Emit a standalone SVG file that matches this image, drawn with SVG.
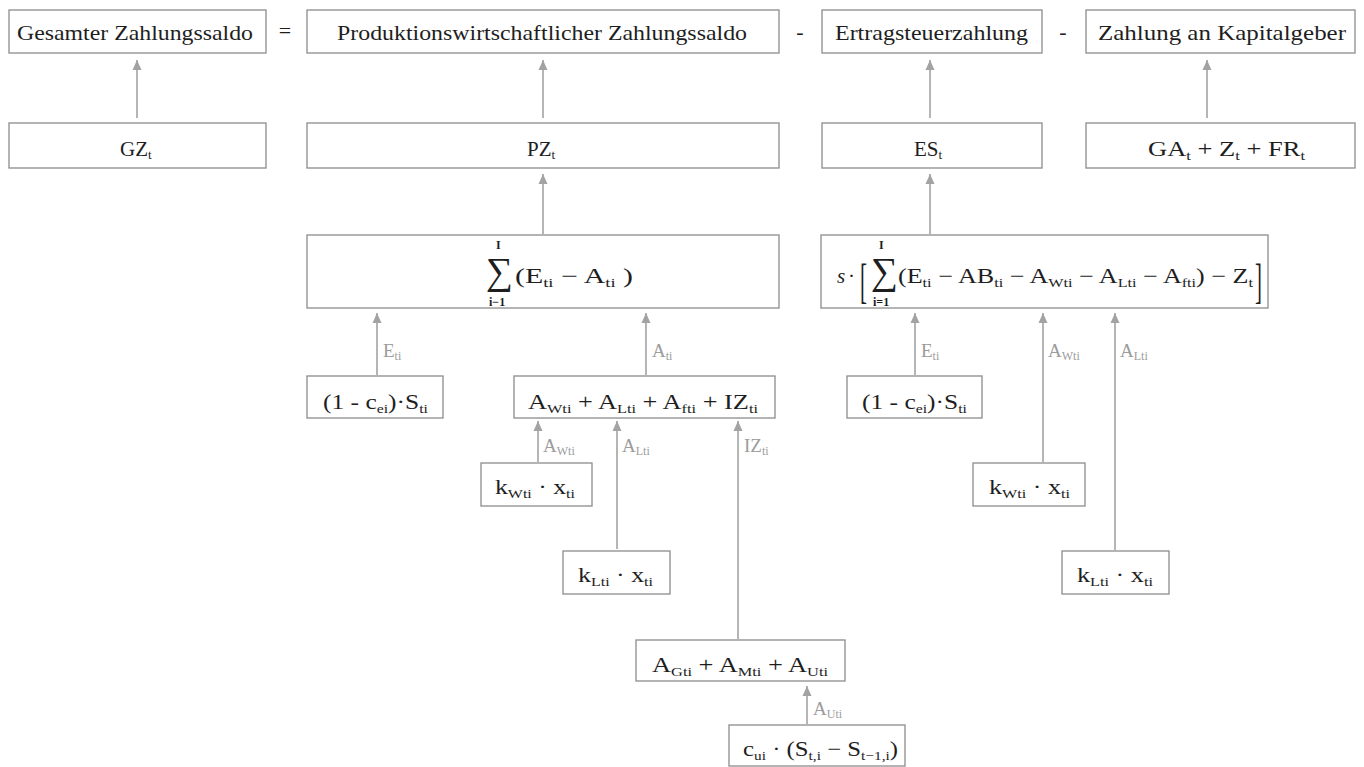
<svg xmlns="http://www.w3.org/2000/svg" width="1364" height="767" viewBox="0 0 1364 767">
  <defs>
    <marker id="arr" markerUnits="userSpaceOnUse" markerWidth="10" markerHeight="10" refX="10" refY="5" orient="auto">
      <path d="M0,0.5 L10,5 L0,9.5 z" fill="#a3a3a3"/>
    </marker>
    <style>
      .box { fill: #ffffff; stroke: #8c8c8c; stroke-width: 1.3; }
      .t { font-family: "Liberation Serif", "Times New Roman", serif; font-size: 22px; fill: #1e1e1e; }
      .m { font-family: "Liberation Serif", "Times New Roman", serif; font-size: 21px; fill: #1e1e1e; }
      .s { font-size: 13px; }
      .lim { font-family: "Liberation Serif", "Times New Roman", serif; font-size: 12px; font-weight: bold; fill: #1e1e1e; }
      .sig { font-family: "Liberation Serif", "DejaVu Serif", serif; font-size: 38px; fill: #1e1e1e; }
      .lbl { font-family: "Liberation Serif", "Times New Roman", serif; font-size: 19px; fill: #9c9c9c; }
      .ls { font-size: 12px; }
      .op { font-family: "Liberation Serif", "Times New Roman", serif; font-size: 22px; fill: #1e1e1e; text-anchor: middle; }
      #connectors line { stroke: #a3a3a3; stroke-width: 1.6; marker-end: url(#arr); }
    </style>
  </defs>
  <rect width="1364" height="767" fill="#ffffff"/>

  <!-- top row: balance equation -->
  <g id="gesamt">
    <rect class="box" x="9" y="10" width="257" height="43"/>
    <text class="t" x="17" y="40" textLength="236" lengthAdjust="spacingAndGlyphs">Gesamter Zahlungssaldo</text>
  </g>
  <text class="op" x="285" y="38">=</text>
  <g id="produktion">
    <rect class="box" x="307" y="10" width="472" height="43"/>
    <text class="t" x="337" y="40" textLength="410" lengthAdjust="spacingAndGlyphs">Produktionswirtschaftlicher Zahlungssaldo</text>
  </g>
  <text class="op" x="800" y="39">-</text>
  <g id="ertragsteuer">
    <rect class="box" x="822" y="10" width="220" height="43"/>
    <text class="t" x="835" y="40" textLength="193" lengthAdjust="spacingAndGlyphs">Ertragsteuerzahlung</text>
  </g>
  <text class="op" x="1063" y="39">-</text>
  <g id="kapitalgeber">
    <rect class="box" x="1086" y="10" width="269" height="43"/>
    <text class="t" x="1098" y="40" textLength="248" lengthAdjust="spacingAndGlyphs">Zahlung an Kapitalgeber</text>
  </g>

  <!-- second row: symbols -->
  <g id="gz">
    <rect class="box" x="9" y="123" width="257" height="45"/>
    <text class="m" x="120" y="156">GZ<tspan class="s" dy="3">t</tspan></text>
  </g>
  <g id="pz">
    <rect class="box" x="307" y="123" width="472" height="45"/>
    <text class="m" x="527" y="156">PZ<tspan class="s" dy="3">t</tspan></text>
  </g>
  <g id="es">
    <rect class="box" x="822" y="123" width="220" height="45"/>
    <text class="m" x="914" y="156">ES<tspan class="s" dy="3">t</tspan></text>
  </g>
  <g id="ga">
    <rect class="box" x="1086" y="123" width="269" height="45"/>
    <text class="m" x="1148" y="156" textLength="157" lengthAdjust="spacingAndGlyphs">GA<tspan class="s" dy="4">t</tspan><tspan dy="-4"> + Z</tspan><tspan class="s" dy="4">t</tspan><tspan dy="-4"> + FR</tspan><tspan class="s" dy="4">t</tspan></text>
  </g>

  <!-- sum of production cash flows -->
  <g id="summe">
    <rect class="box" x="307" y="235" width="472" height="73"/>
    <text class="lim" x="496" y="249">I</text>
    <text class="sig" x="486" y="284">∑</text>
    <text class="lim" x="489" y="306">i−1</text>
    <text class="m" x="515" y="283" textLength="118" lengthAdjust="spacingAndGlyphs">(E<tspan class="s" dy="4">ti</tspan><tspan dy="-4"> − A</tspan><tspan class="s" dy="4">ti</tspan><tspan dy="-4"> )</tspan></text>
  </g>

  <!-- tax formula -->
  <g id="steuer">
    <rect class="box" x="821" y="235" width="447" height="73"/>
    <text class="m" x="837" y="283" font-style="italic">s</text>
    <text class="m" x="848" y="283">·</text>
    <text class="m" transform="translate(860,297) scale(1,2.3)" font-size="24">[</text>
    <text class="lim" x="879" y="249">I</text>
    <text class="sig" x="871" y="284">∑</text>
    <text class="lim" x="873" y="306">i=1</text>
    <text class="m" x="898" y="283" textLength="355" lengthAdjust="spacingAndGlyphs">(E<tspan class="s" dy="4">ti</tspan><tspan dy="-4"> − AB</tspan><tspan class="s" dy="4">ti</tspan><tspan dy="-4"> − A</tspan><tspan class="s" dy="4">Wti</tspan><tspan dy="-4"> − A</tspan><tspan class="s" dy="4">Lti</tspan><tspan dy="-4"> − A</tspan><tspan class="s" dy="4">fti</tspan><tspan dy="-4">) − Z</tspan><tspan class="s" dy="4">t</tspan></text>
    <text class="m" transform="translate(1255,297) scale(1,2.3)" font-size="24">]</text>
  </g>

  <!-- revenue, left -->
  <g id="einzahlung-links">
    <rect class="box" x="307" y="376" width="136" height="42"/>
    <text class="m" x="323" y="409" textLength="105" lengthAdjust="spacingAndGlyphs">(1 - c<tspan class="s" dy="4">ei</tspan><tspan dy="-4">)·S</tspan><tspan class="s" dy="4">ti</tspan></text>
  </g>

  <!-- total payouts -->
  <g id="auszahlung">
    <rect class="box" x="514" y="376" width="261" height="42"/>
    <text class="m" x="528" y="409" textLength="230" lengthAdjust="spacingAndGlyphs">A<tspan class="s" dy="4">Wti</tspan><tspan dy="-4"> + A</tspan><tspan class="s" dy="4">Lti</tspan><tspan dy="-4"> + A</tspan><tspan class="s" dy="4">fti</tspan><tspan dy="-4"> + IZ</tspan><tspan class="s" dy="4">ti</tspan></text>
  </g>

  <g id="kw-links">
    <rect class="box" x="481" y="463" width="111" height="43"/>
    <text class="m" x="495" y="494" textLength="80" lengthAdjust="spacingAndGlyphs">k<tspan class="s" dy="4">Wti</tspan><tspan dy="-4"> · x</tspan><tspan class="s" dy="4">ti</tspan></text>
  </g>
  <g id="kl-links">
    <rect class="box" x="563" y="551" width="107" height="43"/>
    <text class="m" x="578" y="582" textLength="75" lengthAdjust="spacingAndGlyphs">k<tspan class="s" dy="4">Lti</tspan><tspan dy="-4"> · x</tspan><tspan class="s" dy="4">ti</tspan></text>
  </g>

  <g id="instandhaltung">
    <rect class="box" x="636" y="640" width="209" height="41"/>
    <text class="m" x="652" y="672" textLength="176" lengthAdjust="spacingAndGlyphs">A<tspan class="s" dy="4">Gti</tspan><tspan dy="-4"> + A</tspan><tspan class="s" dy="4">Mti</tspan><tspan dy="-4"> + A</tspan><tspan class="s" dy="4">Uti</tspan></text>
  </g>
  <g id="umstellung">
    <rect class="box" x="729" y="725" width="176" height="41"/>
    <text class="m" x="743" y="756" textLength="155" lengthAdjust="spacingAndGlyphs">c<tspan class="s" dy="4">ui</tspan><tspan dy="-4"> · (S</tspan><tspan class="s" dy="4">t,i</tspan><tspan dy="-4"> − S</tspan><tspan class="s" dy="4">t−1,i</tspan><tspan dy="-4">)</tspan></text>
  </g>

  <!-- revenue, right -->
  <g id="einzahlung-rechts">
    <rect class="box" x="847" y="376" width="135" height="42"/>
    <text class="m" x="862" y="409" textLength="105" lengthAdjust="spacingAndGlyphs">(1 - c<tspan class="s" dy="4">ei</tspan><tspan dy="-4">)·S</tspan><tspan class="s" dy="4">ti</tspan></text>
  </g>
  <g id="kw-rechts">
    <rect class="box" x="973" y="463" width="112" height="43"/>
    <text class="m" x="989" y="494" textLength="81" lengthAdjust="spacingAndGlyphs">k<tspan class="s" dy="4">Wti</tspan><tspan dy="-4"> · x</tspan><tspan class="s" dy="4">ti</tspan></text>
  </g>
  <g id="kl-rechts">
    <rect class="box" x="1062" y="551" width="107" height="43"/>
    <text class="m" x="1077" y="582" textLength="76" lengthAdjust="spacingAndGlyphs">k<tspan class="s" dy="4">Lti</tspan><tspan dy="-4"> · x</tspan><tspan class="s" dy="4">ti</tspan></text>
  </g>

  <!-- connectors -->
  <g id="connectors">
    <line x1="137" y1="118" x2="137" y2="60"/>
    <line x1="543" y1="118" x2="543" y2="60"/>
    <line x1="930" y1="118" x2="930" y2="60"/>
    <line x1="1207" y1="118" x2="1207" y2="60"/>
    <line x1="543" y1="234" x2="543" y2="174"/>
    <line x1="930" y1="234" x2="930" y2="174"/>
    <line x1="377" y1="375" x2="377" y2="313"/>
    <line x1="646" y1="375" x2="646" y2="313"/>
    <line x1="538" y1="462" x2="538" y2="421"/>
    <line x1="617" y1="549" x2="617" y2="421"/>
    <line x1="738" y1="639" x2="738" y2="421"/>
    <line x1="807" y1="724" x2="807" y2="686"/>
    <line x1="915" y1="375" x2="915" y2="313"/>
    <line x1="1043" y1="462" x2="1043" y2="313"/>
    <line x1="1115" y1="550" x2="1115" y2="313"/>
  </g>

  <!-- connector labels -->
  <g id="labels">
    <text class="lbl" x="383" y="357">E<tspan class="ls" dy="3">ti</tspan></text>
    <text class="lbl" x="652" y="357">A<tspan class="ls" dy="3">ti</tspan></text>
    <text class="lbl" x="543" y="452">A<tspan class="ls" dy="3">Wti</tspan></text>
    <text class="lbl" x="622" y="452">A<tspan class="ls" dy="3">Lti</tspan></text>
    <text class="lbl" x="744" y="452">IZ<tspan class="ls" dy="3">ti</tspan></text>
    <text class="lbl" x="813" y="715">A<tspan class="ls" dy="3">Uti</tspan></text>
    <text class="lbl" x="921" y="357">E<tspan class="ls" dy="3">ti</tspan></text>
    <text class="lbl" x="1048" y="357">A<tspan class="ls" dy="3">Wti</tspan></text>
    <text class="lbl" x="1120" y="357">A<tspan class="ls" dy="3">Lti</tspan></text>
  </g>
</svg>
